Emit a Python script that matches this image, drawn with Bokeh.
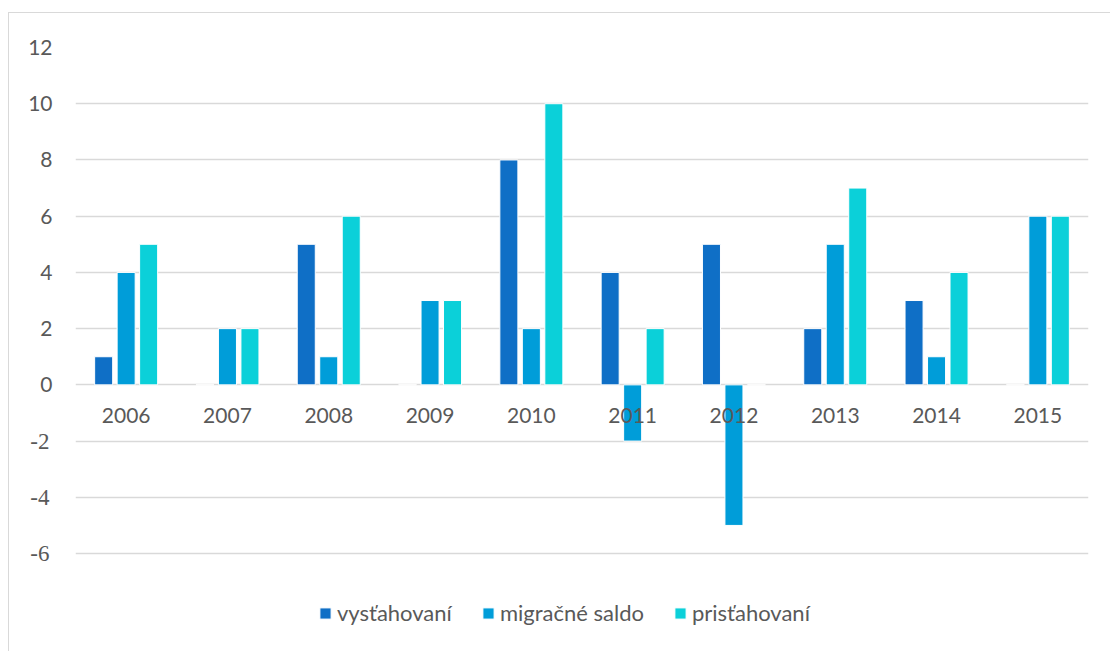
from bokeh.plotting import figure
from bokeh.models import ColumnDataSource, FactorRange, Range1d, FixedTicker, Legend, LegendItem, LinearAxis
from bokeh.transform import dodge
from bokeh.core.properties import value
from bokeh.embed import file_html
from bokeh.resources import INLINE

years = ["2006", "2007", "2008", "2009", "2010", "2011", "2012", "2013", "2014", "2015"]
vystahovani = [1, 0, 5, 0, 8, 4, 5, 2, 3, 0]
migracne_saldo = [4, 2, 1, 3, 2, -2, -5, 5, 1, 6]
pristahovani = [5, 2, 6, 3, 10, 2, 0, 7, 4, 6]
series_names = ["vysťahovaní", "migračné saldo", "prisťahovaní"]
colors = ["#0F6FC6", "#009DD9", "#0BD0D9"]
y_ticks = [-6, -4, -2, 0, 2, 4, 6, 8, 10, 12]
pos_ticks = [t for t in y_ticks if t >= 0]
neg_ticks = [t for t in y_ticks if t < 0]

TEXT = "#595959"
FONT = "Lato"

src = ColumnDataSource(dict(year=years, v=vystahovani, m=migracne_saldo, p=pristahovani,
                            zero=[0] * len(years)))

# lower end of the range leaves room for the legend under the -6 gridline
p = figure(x_range=FactorRange(*years, range_padding=0), y_range=Range1d(-9.52, 12),
           width=1102, height=639, output_backend="svg", toolbar_location=None,
           min_border_left=66, min_border_top=34, min_border_right=23, min_border_bottom=0)
p.styles = {"border-left": "1px solid #d9d9d9", "border-top": "1px solid #d9d9d9",
            "margin-top": "12px", "margin-left": "8px"}
p.outline_line_color = None
p.background_fill_color = "white"
p.border_fill_color = "white"

renderers = []
for col, off, c in zip(["v", "m", "p"], [-0.222, 0.0, 0.222], colors):
    r = p.vbar(x=dodge("year", off, range=p.x_range), top=col, bottom=0, width=0.178,
               source=src, fill_color=c, line_color="white", line_width=1)
    renderers.append(r)

p.text(x="year", y="zero", text="year", source=src, y_offset=31,
       text_align="center", text_baseline="middle", text_color=TEXT,
       text_font=value(FONT), text_font_size="21px")

p.xaxis.visible = False
p.xgrid.grid_line_color = None
p.ygrid.grid_line_color = "#d9d9d9"
p.ygrid.grid_line_width = 1.5
p.ygrid.ticker = FixedTicker(ticks=y_ticks)

ya = p.yaxis[0]
ya.ticker = FixedTicker(ticks=pos_ticks)
ya.axis_line_color = None
ya.major_tick_line_color = None
ya.minor_tick_line_color = None
ya.major_tick_out = 0
ya.major_tick_in = 0
ya.minor_tick_out = 0
ya.major_label_standoff = 23
ya.major_label_text_color = TEXT
ya.major_label_text_font = FONT
ya.major_label_text_font_size = "21px"

ya2 = LinearAxis(ticker=FixedTicker(ticks=neg_ticks), axis_line_color=None,
                 major_tick_line_color=None, minor_tick_line_color=None,
                 major_tick_out=0, major_tick_in=0, minor_tick_out=0,
                 major_label_standoff=-24, major_label_text_color=TEXT,
                 major_label_overrides={t: str(t) for t in neg_ticks},
                 major_label_text_font="Liberation Serif", major_label_text_font_size="23px")
p.add_layout(ya2, "left")

legend = Legend(items=[LegendItem(label=n, renderers=[r]) for n, r in zip(series_names, renderers)],
                orientation="horizontal", location=(243, 26),
                glyph_width=14, glyph_height=14, label_standoff=5, spacing=29,
                padding=0, margin=0, border_line_color=None, background_fill_alpha=0,
                label_text_color=TEXT, label_text_font=FONT, label_text_font_size="22px")
p.add_layout(legend, "center")

open("out.html", "w").write(file_html(p, INLINE))
